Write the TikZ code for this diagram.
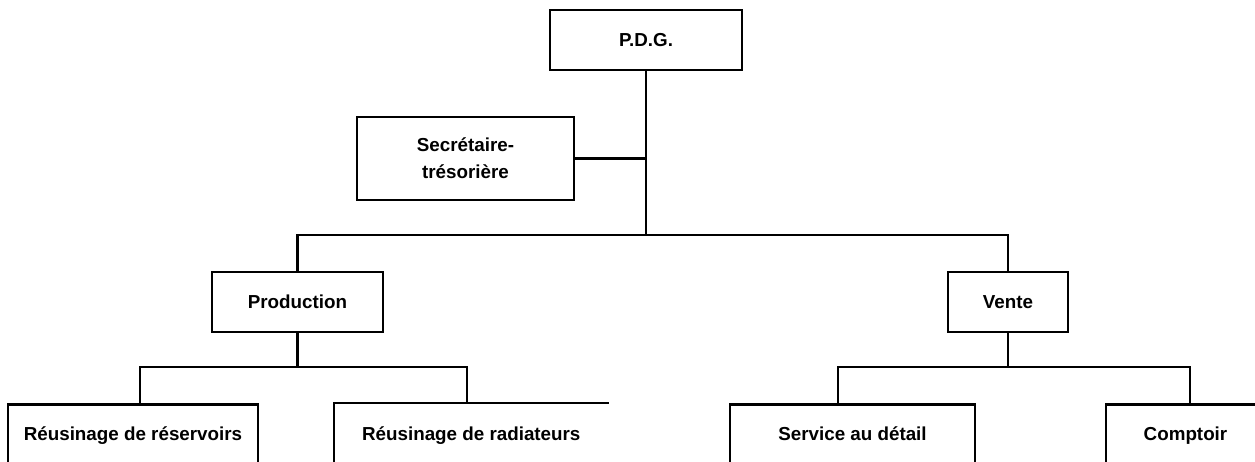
\documentclass[tikz,border=0pt]{standalone}
\usepackage{fontspec}
\setmainfont{Liberation Sans}

\begin{document}
\begin{tikzpicture}[x=0.02cm, y=-0.02cm,
    box/.style={draw, line width=1.5pt, minimum height=1.2cm, inner sep=2pt,
        font=\bfseries\fontsize{10.7}{15.3}\selectfont},
    lowbox/.style={box, anchor=north, minimum height=1.5cm, text height=0.3cm, text depth=0.37cm},
    link/.style={line width=1.5pt}]
    % Frame of the page, the bottom row runs off its edges
    \useasboundingbox (0,0) rectangle (1255,461);
    \clip (0,0) rectangle (1255,461);

    % Top of the chart
    \node[box, minimum width=3.84cm] (pdg) at (646,40) {P.D.G.};
    \node[box, minimum width=4.34cm, minimum height=1.66cm, align=center] (sec) at (465.5,158.5) {Secrétaire-\\trésorière};

    % Departments
    \node[box, minimum width=3.42cm] (prod) at (297.5,302) {Production};
    \node[box, minimum width=2.4cm] (vente) at (1008,302) {Vente};

    % Sections
    \node[lowbox, minimum width=5cm] (reserv) at (133,403) {Réusinage de réservoirs};
    \node[lowbox, draw=none, anchor=north west, minimum width=5.44cm] (radiat) at (334,403) {Réusinage de radiateurs};
    \node[lowbox, minimum width=4.9cm] (detail) at (852.5,403) {Service au détail};
    \node[lowbox, minimum width=3.18cm] (comptoir) at (1185.5,403) {Comptoir};
    \draw[link] (radiat.south west) -- (radiat.north west) -- (radiat.north east);

    % Lines from the P.D.G.
    \coordinate (trunk) at (pdg.south |- 0,235);
    \draw[link] (pdg.south) -- (trunk);
    \draw[link] (sec.east) -- (sec.east -| trunk);
    \draw[link] (prod.north) |- (trunk) -| (vente.north);

    % Lines to the sections
    \coordinate (pjoin) at (prod.south |- 0,367);
    \draw[link] (prod.south) -- (pjoin);
    \draw[link] (reserv.north -| 140,0) |- (pjoin) -| (radiat.north west -| 467,0);

    \coordinate (vjoin) at (vente.south |- 0,367);
    \draw[link] (vente.south) -- (vjoin);
    \draw[link] (detail.north -| 838,0) |- (vjoin) -| (comptoir.north -| 1190,0);
\end{tikzpicture}
\end{document}
